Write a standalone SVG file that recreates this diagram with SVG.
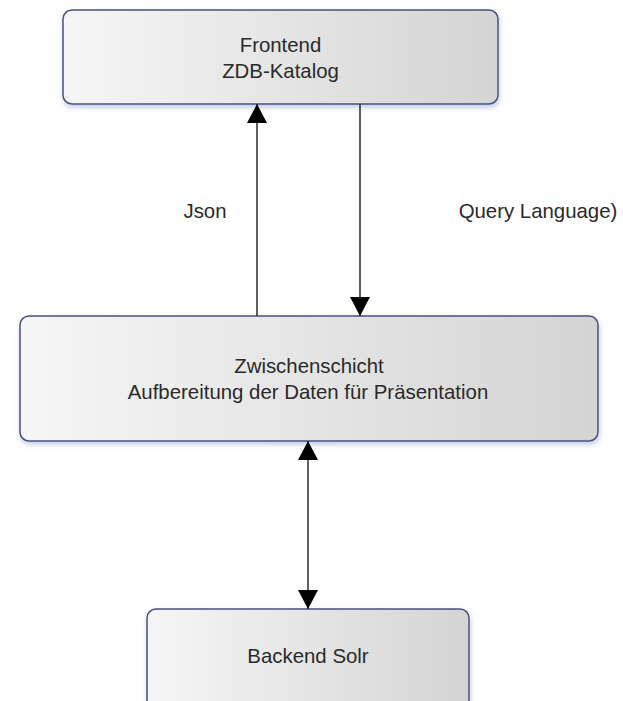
<svg xmlns="http://www.w3.org/2000/svg" width="623" height="701" viewBox="0 0 623 701">
<style>
.box{fill:url(#g);stroke:#4a4f7e;stroke-width:1.5;filter:url(#sh)}
.t{font-family:"Liberation Sans",Arial,sans-serif;font-size:20.4px;fill:#2a2a2a;text-anchor:middle}
.c{stroke:#2a2a2a;stroke-width:1.5;fill:none}
</style>
<defs>
<linearGradient id="g" x1="0" y1="0" x2="1" y2="0">
<stop offset="0" stop-color="#f6f6f6"/>
<stop offset="1" stop-color="#d4d4d4"/>
</linearGradient>
<filter id="sh" x="-5%" y="-10%" width="110%" height="125%">
<feDropShadow dx="1" dy="3" stdDeviation="2.5" flood-color="#8f9bd0" flood-opacity="0.5"/>
</filter>
<marker id="ah" markerUnits="userSpaceOnUse" markerWidth="20" markerHeight="22" viewBox="0 0 20 22" refX="19" refY="11" orient="auto-start-reverse">
<path d="M0,1 L19,11 L0,21 Z" fill="#000"/>
</marker>
</defs>
<rect width="623" height="701" fill="#fff"/>
<g id="frontend">
<rect class="box" x="63" y="10" width="435" height="94" rx="9"/>
<text class="t" x="280.5" y="52">Frontend</text>
<text class="t" x="280.5" y="78">ZDB-Katalog</text>
</g>
<g id="zwischenschicht">
<rect class="box" x="20" y="316" width="578" height="125" rx="9"/>
<text class="t" x="309" y="373">Zwischenschicht</text>
<text class="t" x="308" y="399">Aufbereitung der Daten für Präsentation</text>
</g>
<g id="backend">
<rect class="box" x="147" y="609" width="322" height="110" rx="9"/>
<text class="t" x="308" y="663">Backend Solr</text>
</g>
<g id="connectors">
<line class="c" x1="257" y1="316" x2="257" y2="104" marker-end="url(#ah)"/>
<line class="c" x1="360" y1="104" x2="360" y2="316" marker-end="url(#ah)"/>
<line class="c" x1="308" y1="441" x2="308" y2="609" marker-start="url(#ah)" marker-end="url(#ah)"/>
<text class="t" x="205" y="218">Json</text>
<text class="t" x="538" y="218">Query Language)</text>
</g>
</svg>
